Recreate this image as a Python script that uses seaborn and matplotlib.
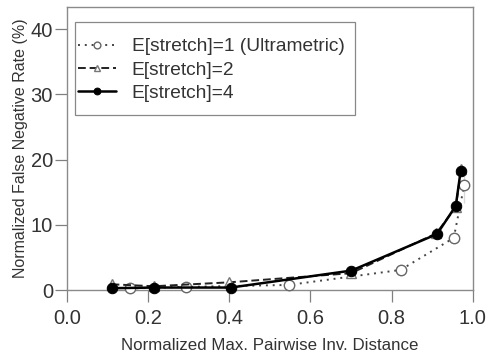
import matplotlib
matplotlib.use("Agg")
import matplotlib.pyplot as plt
from matplotlib.patches import Rectangle
import seaborn as sns
import pandas as pd

labels = ["E[stretch]=1 (Ultrametric)", "E[stretch]=2", "E[stretch]=4"]
x1 = [0.155, 0.293, 0.547, 0.822, 0.953, 0.979, 0.979]
y1 = [0.26, 0.5, 0.8, 3.1, 8.0, 13.3, 19.0]
x2 = [0.11, 0.214, 0.40, 0.70, 0.91, 0.958, 0.971]
y2 = [0.9, 0.6, 1.2, 2.6, 8.7, 12.7, 18.5]
x3 = [0.11, 0.214, 0.404, 0.701, 0.912, 0.958, 0.970]
y3 = [0.3, 0.4, 0.4, 3.0, 8.6, 12.9, 18.25]
xticks = [0.0, 0.2, 0.4, 0.6, 0.8, 1.0]
yticks = [0, 10, 20, 30, 40]

sns.set_style("white")
plt.rcParams['font.family'] = ['Liberation Sans', 'DejaVu Sans']

fig = plt.figure(figsize=(4.92, 3.6), dpi=100)
ax = fig.add_axes([0.136, 0.194, 0.825, 0.787])

styles = [
    dict(color="#444444", linestyle=(0, (1, 2.5)), linewidth=1.4, marker="o",
         markerfacecolor="white", markeredgecolor="#666666", markersize=7.5, markeredgewidth=1.0),
    dict(color="#222222", linestyle=(0, (4, 2)), linewidth=1.4, marker="^",
         markerfacecolor="white", markeredgecolor="#777777", markersize=7, markeredgewidth=1.0),
    dict(color="black", linestyle="-", linewidth=1.8, marker="o",
         markerfacecolor="black", markeredgecolor="black", markersize=7.5),
]
for xs, ys, lab, st in zip([x1, x2, x3], [y1, y2, y3], labels, styles):
    df = pd.DataFrame({"x": xs, "y": ys})
    sns.lineplot(data=df, x="x", y="y", ax=ax, sort=False, label=lab,
                 clip_on=False, zorder=3, **st)

ax.set_xlim(0, 1.0)
ax.set_ylim(0, 43.4)
ax.set_xticks(xticks)
ax.set_xticklabels([f"{t:.1f}" for t in xticks])
ax.set_yticks(yticks)
ax.tick_params(direction="out", length=8.6, width=0.9, color="#808080",
               labelsize=14.5, labelcolor="#333333", bottom=True, left=True)
ax.tick_params(axis="x", pad=5)
ax.tick_params(axis="y", pad=1.5)
for s in ax.spines.values():
    s.set_color("#8a8a8a")
    s.set_linewidth(1.0)
ax.set_xlabel("Normalized Max. Pairwise Inv. Distance", fontsize=12.2, color="#333333", labelpad=7)
ax.set_ylabel("Normalized False Negative Rate (%)", fontsize=11.5, color="#333333", labelpad=1.5)

# legend box (pixel-based bounds converted to axes fraction)
ax.add_patch(Rectangle((8 / 406, 1 - 108 / 283), 280 / 406, 93 / 283, transform=ax.transAxes,
                       facecolor="white", edgecolor="#888888", linewidth=0.9, zorder=4))
leg = ax.legend(loc="upper left", bbox_to_anchor=(0.027, 0.89), fontsize=13.8,
                frameon=False, handlelength=2.0, handletextpad=0.8, labelspacing=0.3,
                borderpad=0.0, borderaxespad=0.0, markerscale=0.65)
leg.set_zorder(5)
for t in leg.get_texts():
    t.set_color("#333333")

fig.savefig("out.png", dpi=100)
